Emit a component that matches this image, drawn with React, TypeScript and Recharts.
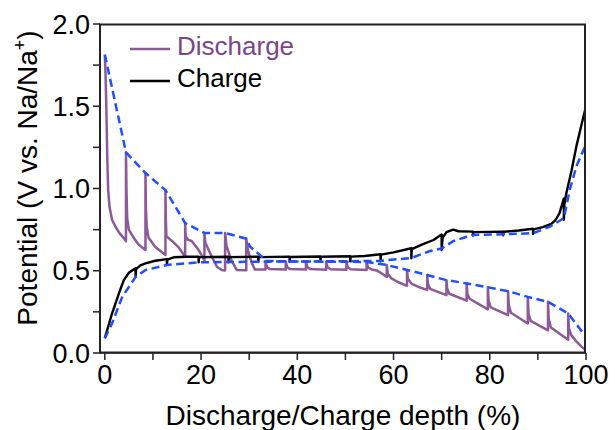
import React from 'react';
import { LineChart, Line, XAxis, YAxis, Legend, Label } from 'recharts';

const FONT = '"Liberation Sans", Arial, Helvetica, sans-serif';
const PURPLE = '#8b5a97';
const PURPLE_TEXT = '#7b4688';
const BLUE = '#1f4fff';
const AXIS = '#222222';

// Discharge (GITT) curve: [depth %, potential V]
const dischargeCurve: [number, number][] = [
  [0, 1.81], [0.15, 1.7], [0.35, 1.45], [0.5, 1.2], [0.7, 0.99], [0.97, 0.89], [1.5, 0.81], [2.2, 0.77], [3.0, 0.73], [3.9, 0.7], [4.4, 0.68],
  [4.4, 1.22], [4.5, 0.99], [4.65, 0.82], [5.0, 0.75], [6.0, 0.7], [7.0, 0.66], [8.45, 0.626],
  [8.45, 1.094], [8.55, 0.88], [8.7, 0.77], [9.1, 0.7], [10.5, 0.645], [12.6, 0.596],
  [12.6, 0.99], [12.7, 0.8], [12.8, 0.71], [14.0, 0.68], [15.4, 0.64], [16.7, 0.585],
  [16.7, 0.79], [16.8, 0.71], [17.2, 0.69], [18.1, 0.68], [19.5, 0.626], [20.7, 0.565],
  [20.7, 0.73], [20.9, 0.67], [21.9, 0.606], [23.3, 0.524], [24.3, 0.505], [25.0, 0.502],
  [25.0, 0.73], [25.3, 0.65], [26.3, 0.565], [27.4, 0.505], [29.4, 0.503],
  [29.4, 0.695], [29.8, 0.62], [30.5, 0.55], [31.2, 0.507], [33.4, 0.507],
  [33.4, 0.556], [33.7, 0.522], [34.3, 0.51], [37.6, 0.507],
  [37.6, 0.556], [37.9, 0.522], [38.5, 0.51], [41.8, 0.507],
  [41.8, 0.556], [42.1, 0.522], [42.7, 0.51], [46.0, 0.506],
  [46.0, 0.555], [46.3, 0.521], [46.9, 0.509], [50.2, 0.506],
  [50.2, 0.555], [50.5, 0.521], [51.1, 0.509], [54.4, 0.505],
  [54.4, 0.553], [54.7, 0.52], [55.4, 0.508], [56.5, 0.502], [57.5, 0.485], [58.6, 0.462],
  [58.6, 0.535], [58.8, 0.48], [59.5, 0.455], [61.0, 0.43], [62.8, 0.408],
  [62.8, 0.505], [63.0, 0.45], [63.8, 0.42], [65.3, 0.4], [67.0, 0.384],
  [67.0, 0.474], [67.15, 0.42], [67.6, 0.39], [71.0, 0.352],
  [71.0, 0.443], [71.15, 0.39], [71.6, 0.36], [75.2, 0.318],
  [75.2, 0.423], [75.35, 0.36], [75.8, 0.33], [79.6, 0.265],
  [79.6, 0.399], [79.75, 0.32], [80.2, 0.278], [83.8, 0.23],
  [83.8, 0.376], [83.95, 0.29], [84.4, 0.245], [87.9, 0.179],
  [87.9, 0.341], [88.05, 0.24], [88.5, 0.195], [92.1, 0.138],
  [92.1, 0.311], [92.25, 0.21], [92.7, 0.155], [96.3, 0.08],
  [96.3, 0.24], [96.45, 0.15], [96.9, 0.11], [98.0, 0.07], [99.0, 0.04], [100, 0.015],
];

// Charge (GITT) curve
const chargeCurve: [number, number][] = [
  [0, 0.09], [0.8, 0.17], [1.5, 0.24], [2.9, 0.36], [3.95, 0.443], [5.0, 0.488], [5.8, 0.505], [6.4, 0.515],
  [6.4, 0.463], [6.5, 0.51], [7.4, 0.533], [8.45, 0.545], [10.5, 0.561], [12.9, 0.571],
  [12.9, 0.535], [13.0, 0.568], [14.3, 0.582], [17.0, 0.585], [19.5, 0.585],
  [19.5, 0.551], [19.6, 0.583], [25.7, 0.585],
  [25.7, 0.551], [25.8, 0.583], [31.9, 0.585],
  [31.9, 0.553], [32.0, 0.583], [38.4, 0.586],
  [38.4, 0.555], [38.5, 0.584], [44.8, 0.587],
  [44.8, 0.556], [44.9, 0.585], [51.0, 0.588],
  [51.0, 0.557], [51.1, 0.586], [54.0, 0.59], [57.3, 0.6],
  [57.3, 0.558], [57.4, 0.598], [60.0, 0.612], [63.7, 0.637],
  [63.7, 0.576], [63.8, 0.632], [66.0, 0.66], [68.3, 0.687], [70.0, 0.72],
  [70.0, 0.626], [70.2, 0.7], [71.0, 0.735], [72.4, 0.75], [73.5, 0.74], [76.5, 0.738],
  [76.5, 0.714], [76.6, 0.735], [82.8, 0.738],
  [82.8, 0.716], [82.9, 0.737], [86.0, 0.745], [89.0, 0.755],
  [89.0, 0.724], [89.1, 0.752], [91.0, 0.765], [92.8, 0.785], [93.7, 0.81], [94.5, 0.85], [95.4, 0.94],
  [95.4, 0.81], [95.5, 0.9], [95.9, 0.97], [97.0, 1.11], [98.0, 1.256], [99.0, 1.38], [100, 1.5],
];

// Quasi-equilibrium potentials (dashed)
const dischargeOCV: [number, number][] = [
  [0, 1.815], [4.4, 1.22], [8.45, 1.094], [12.6, 0.99], [16.7, 0.79], [20.7, 0.73], [25.0, 0.73],
  [29.4, 0.695], [30.2, 0.646], [32.7, 0.585], [33.4, 0.56], [37.6, 0.557], [41.8, 0.556], [46.0, 0.555],
  [50.2, 0.555], [54.4, 0.553], [58.6, 0.535], [62.8, 0.505], [67.0, 0.474], [71.0, 0.443], [75.2, 0.423],
  [79.6, 0.399], [83.8, 0.376], [87.9, 0.341], [92.1, 0.311], [96.3, 0.24], [100, 0.098],
];

const chargeOCV: [number, number][] = [
  [0, 0.088], [1.5, 0.18], [3.6, 0.34], [6.4, 0.463], [8.45, 0.504], [12.9, 0.535], [19.5, 0.551],
  [25.7, 0.553], [31.9, 0.555], [38.4, 0.556], [44.8, 0.557], [51.0, 0.558], [57.3, 0.56], [63.7, 0.578],
  [67.6, 0.62], [70.0, 0.635], [72.4, 0.68], [76.5, 0.718], [82.8, 0.722], [89.0, 0.728], [92.5, 0.768],
  [95.4, 0.82], [96.6, 0.99], [98.0, 1.134], [100, 1.27],
];

const xTicks = [0, 10, 20, 30, 40, 50, 60, 70, 80, 90, 100];
const yTicks = [0, 0.25, 0.5, 0.75, 1.0, 1.25, 1.5, 1.75, 2.0];
const legendOrder = ['Discharge', 'Charge'];

const toPoints = (arr: [number, number][]) => arr.map(([x, y]) => ({ x, y }));

const xFmt = (v: number) => (v % 20 === 0 ? String(v) : '');
const yFmt = (v: number) => (Math.abs(v * 2 - Math.round(v * 2)) < 1e-9 ? v.toFixed(1) : '');

const renderLegend = (props: any) => {
  const items = (props.payload || [])
    .filter((p: any) => legendOrder.includes(p.value))
    .sort((a: any, b: any) => legendOrder.indexOf(a.value) - legendOrder.indexOf(b.value));
  return (
    <svg width={615} height={430} style={{ display: 'block' }}>
      <rect x={100} y={24.5} width={485} height={328} fill="none" stroke={AXIS} strokeWidth={2} />
      {items.map((it: any, i: number) => (
        <g key={i}>
          <line x1={130} x2={170} y1={49 + i * 32} y2={49 + i * 32} stroke={it.color} strokeWidth={2.5} />
          <text x={177} y={55 + i * 32} fontSize={26} fontFamily={FONT}
            fill={it.value === 'Discharge' ? PURPLE_TEXT : '#000'}>{it.value}</text>
        </g>
      ))}
    </svg>
  );
};

const XTitle = () => (
  <text x={343} y={425} textAnchor="middle" fontSize={28} fontFamily={FONT} fill="#000">
    Discharge/Charge depth (%)
  </text>
);

const YTitle = () => (
  <text x={37} y={178} transform="rotate(-90, 37, 178)" textAnchor="middle" fontSize={28} fontFamily={FONT} fill="#000">
    Potential (V vs. Na/Na<tspan dy={-11} fontSize={18}>+</tspan><tspan dy={11}>)</tspan>
  </text>
);

export default function App() {
  return (
    <div style={{ position: 'absolute', left: 0, top: 0, width: 615, height: 430, background: '#fff' }}>
      <LineChart width={615} height={430} margin={{ top: 24, right: 29, bottom: 0, left: 0 }}
        style={{ fontFamily: FONT }}>
        <XAxis dataKey="x" type="number" domain={[-1, 100]} ticks={xTicks} tickFormatter={xFmt}
          allowDataOverflow interval={0} height={77} tickSize={7} tickMargin={5}
          stroke={AXIS} strokeWidth={1.5}
          tick={{ fontSize: 27, fill: '#000', fontFamily: FONT }}
          label={<Label content={XTitle} />} />
        <YAxis type="number" domain={[0, 2]} ticks={yTicks} tickFormatter={yFmt} interval={0}
          width={100} tickSize={7} tickMargin={3} stroke={AXIS} strokeWidth={1.5} allowDataOverflow
          tick={{ fontSize: 27, fill: '#000', fontFamily: FONT }}
          label={<Label content={YTitle} />} />
        <Legend layout="horizontal" verticalAlign="middle" align="center" content={renderLegend}
          wrapperStyle={{ position: 'absolute', left: 0, top: 0, width: 615, height: 430, margin: 0, pointerEvents: 'none' }} />
        <Line name="Discharge" data={toPoints(dischargeCurve)} dataKey="y" type="linear" stroke={PURPLE}
          strokeWidth={2.5} dot={false} activeDot={false} isAnimationActive={false} strokeLinejoin="round" />
        <Line name="Charge" data={toPoints(chargeCurve)} dataKey="y" type="linear" stroke="#000"
          strokeWidth={2.4} dot={false} activeDot={false} isAnimationActive={false} strokeLinejoin="round" />
        <Line name="Discharge OCV" data={toPoints(dischargeOCV)} dataKey="y" type="linear" stroke={BLUE}
          strokeWidth={2.5} strokeDasharray="8 4.5" dot={false} activeDot={false} legendType="none"
          isAnimationActive={false} />
        <Line name="Charge OCV" data={toPoints(chargeOCV)} dataKey="y" type="linear" stroke={BLUE}
          strokeWidth={2.5} strokeDasharray="8 4.5" dot={false} activeDot={false} legendType="none"
          isAnimationActive={false} />
      </LineChart>
    </div>
  );
}
